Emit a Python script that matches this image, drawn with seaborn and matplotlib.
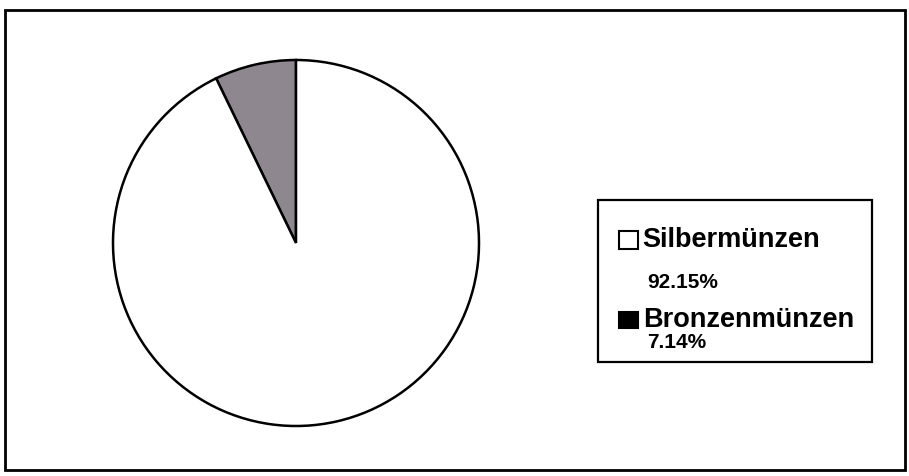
import matplotlib
matplotlib.use("Agg")
import matplotlib.pyplot as plt
import matplotlib.patches as mpatches
import seaborn as sns

sns.set_style("white")
plt.rcParams['font.family'] = ['Liberation Sans', 'DejaVu Sans']
plt.rcParams['text.color'] = 'black'

# Daten
kategorien = ['Bronzenmünzen', 'Silbermünzen']
anteile = [7.14, 92.15]
farben_pie = ['#8f8790', '#ffffff']
farben_legende = ['#000000', '#ffffff']

W, H = 909, 476
fig = plt.figure(figsize=(W / 100, H / 100), dpi=100)

# Kreis: Mittelpunkt (296, 243) px, Radius 183 px
cx, cy, r = 296, 243, 183
ax = fig.add_axes([(cx - r) / W, (H - cy - r) / H, 2 * r / W, 2 * r / H])
ax.pie(anteile, colors=farben_pie, startangle=90, counterclock=True,
       wedgeprops={'edgecolor': 'black', 'linewidth': 1.8, 'clip_on': False})
ax.set_xlim(-1, 1)
ax.set_ylim(-1, 1)
ax.set_aspect('equal')
ax.axis('off')

def px(x, y):
    return x / W, 1 - y / H

# Rahmen außen
x0, y0 = px(5, 470)
fig.patches.append(mpatches.Rectangle((x0, y0), 900 / W, 460 / H, transform=fig.transFigure,
                                      fill=False, edgecolor='black', linewidth=2))

# Legendenkasten
x0, y0 = px(598, 362)
fig.patches.append(mpatches.Rectangle((x0, y0), 274 / W, 162 / H, transform=fig.transFigure,
                                      fill=False, edgecolor='black', linewidth=1.6))

# Legende: Silber oben, Bronze unten
zeilen = [(1, 240, 282, 18, 642), (0, 320, 343, 16, 643)]
for i, y_label, y_pct, hq, xt in zeilen:
    sx, sy = px(619, y_label + hq / 2)
    fig.patches.append(mpatches.Rectangle((sx, sy), 19 / W, hq / H, transform=fig.transFigure,
                                          facecolor=farben_legende[i], edgecolor='black',
                                          linewidth=1.5))
    tx, ty = px(xt, y_label)
    fig.text(tx, ty, kategorien[i], fontsize=19.5, fontweight='bold', va='center', ha='left')
    tx, ty = px(647, y_pct)
    fig.text(tx, ty, f'{anteile[i]:.2f}%', fontsize=15, fontweight='bold', va='center', ha='left')

fig.savefig('out.png', dpi=100)
